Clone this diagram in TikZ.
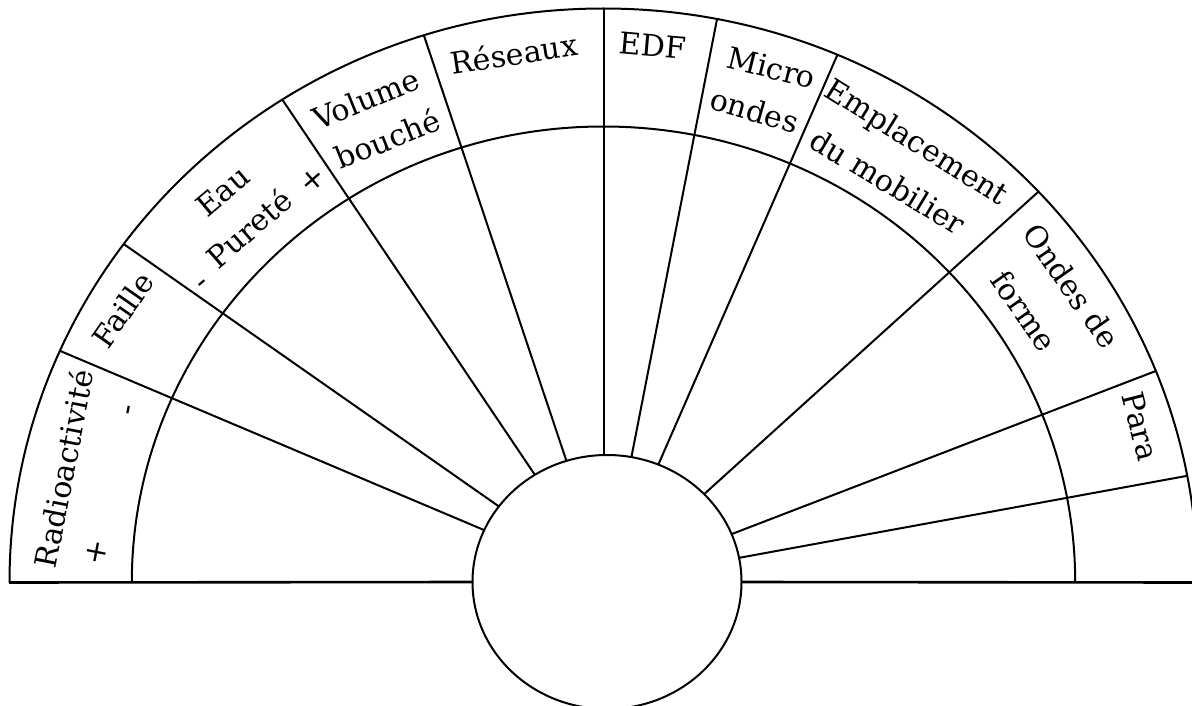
\documentclass[tikz,border=0pt]{standalone}
\usepackage{fontspec}
\setmainfont{DejaVu Serif}
\usetikzlibrary{shapes.geometric,calc}
\begin{document}
\begin{tikzpicture}[x=1pt,y=-1pt,
  rim/.style={line width=2pt},
  axis/.style={line width=2.6pt},
  lbl/.style={font=\fontsize{30}{36}\selectfont, inner sep=0pt, anchor=base},
  sgn/.style={font=\fontsize{30}{36}\selectfont, inner sep=0pt}]
\useasboundingbox (0,0) rectangle (1192,706);
\clip (0,0) rectangle (1192,706);

% centre of the two scales
\coordinate (C) at (603.5,582.5);

% central disc
\node[draw, ellipse, rim, minimum width=269pt, minimum height=254pt,
      inner sep=0pt, outer sep=0pt] (hub) at (607,582) {};

% outer and inner scales
\draw[rim] ($(C)+(180:594pt and 574pt)$)
  arc[start angle=180, end angle=0, x radius=594pt, y radius=574pt];
\draw[rim] ($(C)+(180:471.7pt and 456pt)$)
  arc[start angle=180, end angle=0, x radius=471.7pt, y radius=456pt];

% sector boundaries on the outer scale
\foreach \i/\t in {1/156.2, 2/143.87, 3/122.73, 4/107.6,
                   6/78.98, 7/66.81, 8/42.92, 9/21.62, 10/10.71}
  \coordinate (o\i) at ($(C)+(\t:594pt and 574pt)$);
\coordinate (o5) at (604,8.5);
\foreach \i in {1,2,3,4,6,7,8,9,10}
  \draw[rim] (hub) -- (o\i);
\draw[axis] (o5) -- (o5 |- hub.north);

% base line
\coordinate (bl) at (9,582.5);
\coordinate (br) at (1192,582.5);
\draw[axis] (bl) -- (hub.west);
\draw[axis] (hub.east) -- (br);

% sector labels
\node[lbl, rotate=79] (radio) at (75,471) {Radioactivité};
\node[sgn, rotate=79] (radioplus) at (96.7,552.7) {+};
\node[lbl, rotate=79] (radiominus) at (136.5,411.6) {-};
\node[lbl, rotate=55] (faille) at (132,316) {Faille};
\node[lbl, rotate=40] (eau) at (229.7,199.4) {Eau};
\node[lbl, rotate=41] (purete) at (256.6,236.8) {Pureté};
\node[lbl, rotate=41] (eauminus) at (207.2,289.6) {-};
\node[sgn, rotate=41] (eauplus) at (313.3,180) {+};
\node[lbl, rotate=22] (volume) at (370.4,109.3) {Volume};
\node[lbl, rotate=22] (bouche) at (392,149.3) {bouché};
\node[lbl, rotate=8.6] (reseaux) at (515.7,65) {Réseaux};
\node[lbl, rotate=-5] (edf) at (651.7,56.7) {EDF};
\node[lbl, rotate=-14] (micro) at (769,78.3) {Micro};
\node[lbl, rotate=-16] (ondes) at (751.7,121.3) {ondes};
\node[lbl, rotate=-32] (empl) at (911.4,150.8) {Emplacement};
\node[lbl, rotate=-31] (mobil) at (882,191.2) {du mobilier};
\node[lbl, rotate=-55] (ondesde) at (1062.5,292.4) {Ondes de};
\node[lbl, rotate=-55] (forme) at (1015,317.4) {forme};
\node[lbl, rotate=-75.5] (para) at (1130.3,429.2) {Para};
\end{tikzpicture}
\end{document}
